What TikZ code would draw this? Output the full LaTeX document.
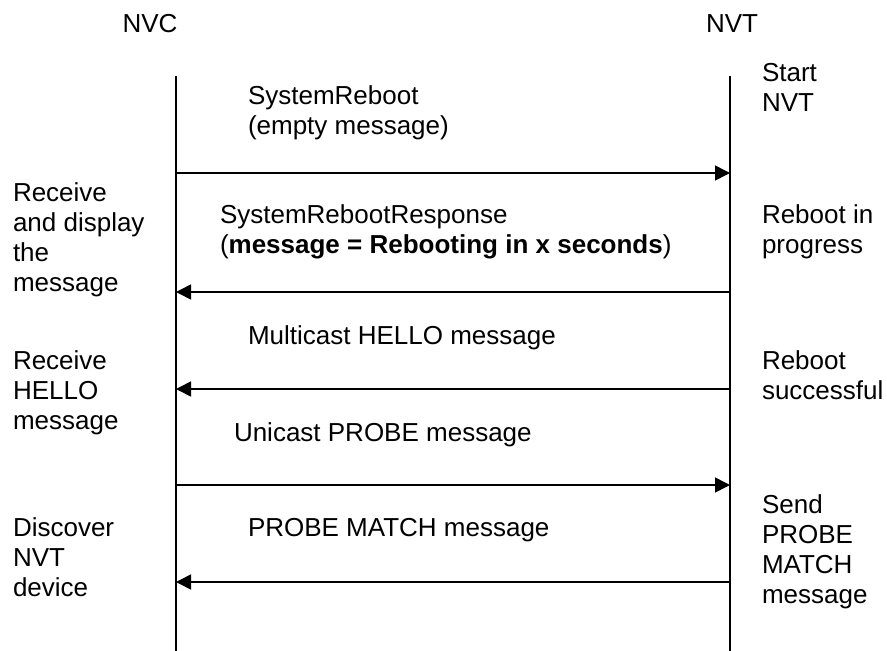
\documentclass[tikz,border=0pt]{standalone}
\usepackage{fontspec}
\setmainfont{Liberation Sans}
\usepackage{tikz}
\usetikzlibrary{arrows.meta}

\begin{document}
\begin{tikzpicture}[
        x = 1pt, y = -1pt,
        txt/.style = {
                anchor = base west,
                align = left,
                inner sep = 0pt,
                outer sep = 0pt,
                font = \fontsize{26}{30}\selectfont
            },
        head/.style = {
                txt,
                anchor = base
            },
        life/.style = {line width = 2pt},
        msg/.style = {
                line width = 1.6pt,
                -{Triangle[length = 15pt, width = 15pt]}
            }
        ]
        \useasboundingbox (0,0) rectangle (887,651);

        % parties
        \node[head] (nvc) at (150,32) {NVC};
        \node[head] (nvt) at (732,32) {NVT};

        \coordinate (nvctop) at (176,76);
        \coordinate (nvcbot) at (176,651);
        \coordinate (nvttop) at (730,76);
        \coordinate (nvtbot) at (730,651);
        \draw[life] (nvctop) -- (nvcbot);
        \draw[life] (nvttop) -- (nvtbot);

        % message end points
        \coordinate (c1) at (176,173);
        \coordinate (t1) at (730,173);
        \coordinate (c2) at (176,292);
        \coordinate (t2) at (730,292);
        \coordinate (c3) at (176,389);
        \coordinate (t3) at (730,389);
        \coordinate (c4) at (176,485);
        \coordinate (t4) at (730,485);
        \coordinate (c5) at (176,582);
        \coordinate (t5) at (730,582);

        \draw[msg] (c1) -- (t1);
        \draw[msg] (t2) -- (c2);
        \draw[msg] (t3) -- (c3);
        \draw[msg] (c4) -- (t4);
        \draw[msg] (t5) -- (c5);

        % message labels (base = last line)
        \node[txt] (reboot) at (248,134) {SystemReboot\\(empty message)};
        \node[txt] (rebootresp) at (220,253) {SystemRebootResponse\\(\textbf{message = Rebooting in x seconds})};
        \node[txt] (hello) at (248,344) {Multicast HELLO message};
        \node[txt] (probe) at (234,441) {Unicast PROBE message};
        \node[txt] (match) at (248,536) {PROBE MATCH message};

        % NVC side
        \node[txt] (display) at (13,291) {Receive\\and display\\the\\message};
        \node[txt] (gethello) at (13,429) {Receive\\HELLO\\message};
        \node[txt] (discover) at (13,596) {Discover\\NVT\\device};

        % NVT side
        \node[txt] (start) at (762,111) {Start\\NVT};
        \node[txt] (progress) at (762,253) {Reboot in\\progress};
        \node[txt] (success) at (762,399) {Reboot\\successful};
        \node[txt] (sendmatch) at (762,603) {Send\\PROBE\\MATCH\\message};

    \end{tikzpicture}
\end{document}
